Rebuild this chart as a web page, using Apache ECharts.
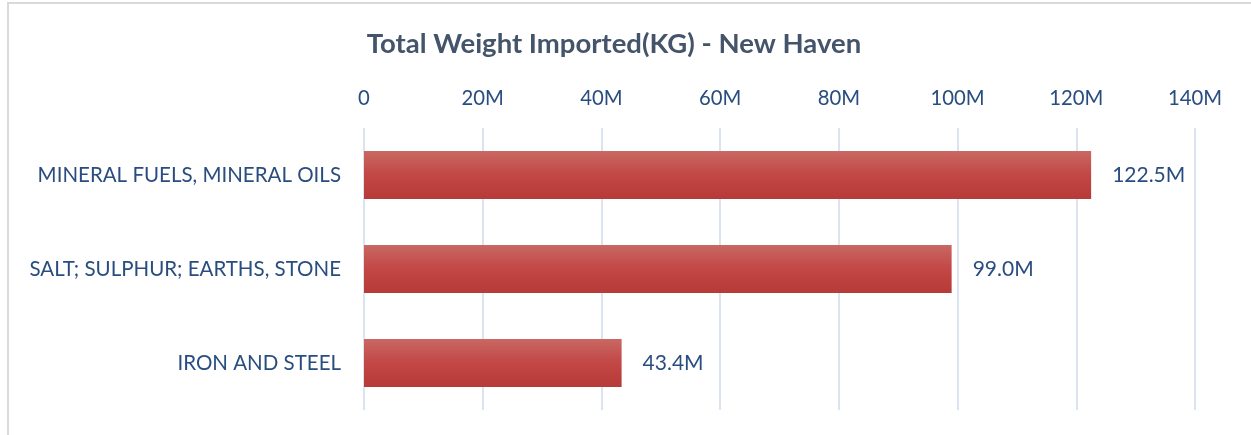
<!DOCTYPE html>
<html>
<head>
<meta charset="utf-8">
<script src="https://cdn.jsdelivr.net/npm/echarts@6/dist/echarts.min.js"></script>
<style>
  html, body { margin: 0; padding: 0; background: #fff; }
  #chart { width: 1251px; height: 435px; }
</style>
</head>
<body>
<div id="chart"></div>
<script>
// 数据
const categories = ['MINERAL FUELS, MINERAL OILS', 'SALT; SULPHUR; EARTHS, STONE', 'IRON AND STEEL'];
const weights = [122.5e6, 99.0e6, 43.4e6];
const tickMax = 140e6;
const tickStep = 20e6;

const textColor = '#2a4d80';

var myChart = echarts.init(document.getElementById('chart'));

myChart.setOption({
    animation: false,
    title: {
        text: 'Total Weight Imported(KG) - New Haven',
        left: 609,
        top: 25,
        textAlign: 'center',
        textStyle: {
            fontFamily: 'Lato',
            fontWeight: 'bold',
            fontSize: 27.5,
            color: '#44546a'
        }
    },
    // 外框
    graphic: [{
        type: 'rect',
        shape: { x: 8, y: 3, width: 1400, height: 600 },
        style: { fill: 'none', stroke: '#d9d9d9', lineWidth: 2 },
        silent: true
    }],
    grid: {
        left: 364,
        right: 1251 - 1195,
        top: 128,
        bottom: 435 - 410,
        containLabel: false
    },
    xAxis: {
        type: 'value',
        position: 'top',
        min: 0,
        max: tickMax,
        interval: tickStep,
        axisLine: { show: false },
        axisTick: { show: false },
        splitLine: {
            lineStyle: { color: '#dae4f1', width: 2 }
        },
        axisLabel: {
            margin: 20,
            fontFamily: 'Lato',
            fontSize: 20.3,
            color: textColor,
            formatter: function (v) {
                return v === 0 ? '0' : (v / 1e6) + 'M';
            }
        }
    },
    yAxis: {
        type: 'category',
        data: categories,
        inverse: true,
        axisLine: { show: false },
        axisTick: { show: false },
        axisLabel: {
            margin: 23,
            fontFamily: 'Lato',
            fontSize: 20.5,
            color: textColor
        }
    },
    series: [{
        type: 'bar',
        data: weights,
        barWidth: 48,
        itemStyle: {
            color: new echarts.graphic.LinearGradient(0, 0, 0, 1, [
                { offset: 0, color: '#c96863' },
                { offset: 0.5, color: '#c24745' },
                { offset: 1, color: '#b53a38' }
            ])
        },
        label: {
            show: true,
            position: 'right',
            distance: 21,
            fontFamily: 'Lato',
            fontSize: 21,
            color: textColor,
            formatter: function (p) {
                return (p.value / 1e6).toFixed(1) + 'M';
            }
        }
    }]
});
</script>
</body>
</html>
